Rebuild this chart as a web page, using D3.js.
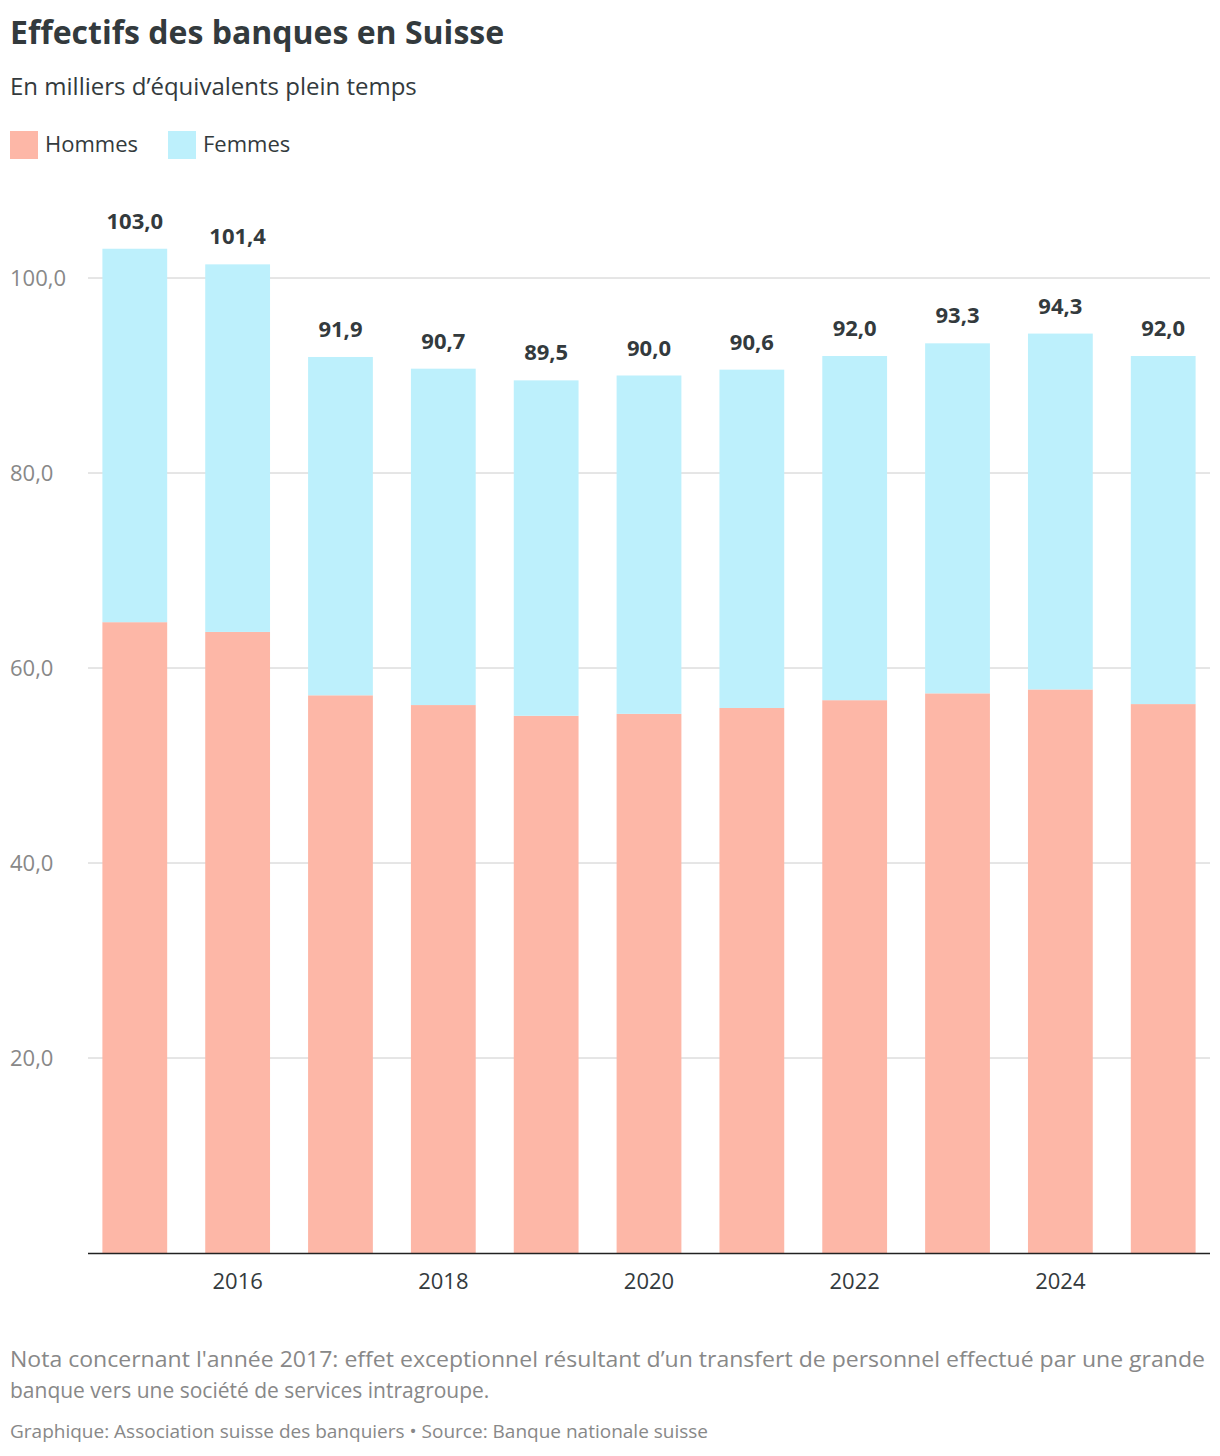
<!DOCTYPE html>
<html><head><meta charset="utf-8">
<script src="https://cdn.jsdelivr.net/npm/d3@7"></script>
<style>body{margin:0;background:#fff;font-family:"Open Sans",Lato,sans-serif;}</style>
</head><body><svg id="c" width="1220" height="1456"></svg>
<script>
const years=[2015,2016,2017,2018,2019,2020,2021,2022,2023,2024,2025];
const totals=[103.0,101.4,91.9,90.7,89.5,90.0,90.6,92.0,93.3,94.3,92.0];
const hommes=[64.7,63.7,57.2,56.2,55.1,55.3,55.9,56.7,57.4,57.8,56.3];
const femmes=totals.map((t,i)=>+(t-hommes[i]).toFixed(1));
const yTicks=[20,40,60,80,100];
const xTickYears=[2016,2018,2020,2022,2024];
const cH="#fdb7a7",cF="#bdf0fc",txt="#333a3d";
const svg=d3.select("#c");
const x=d3.scaleBand().domain(years).range([88,1210]).paddingInner(0.37).paddingOuter(0.14);
const y=d3.scaleLinear().domain([0,100]).range([1253,278]);
const fmt=v=>v.toFixed(1).replace(".",",");
svg.append("text").attr("x",10).attr("y",44).attr("font-size",32).attr("font-weight",700).attr("fill",txt).text("Effectifs des banques en Suisse");
svg.append("text").attr("x",10).attr("y",95).attr("font-size",24).attr("fill",txt).text("En milliers d’équivalents plein temps");
[["Hommes",cH,10],["Femmes",cF,168]].forEach(([l,c,px])=>{
 svg.append("rect").attr("x",px).attr("y",131).attr("width",28).attr("height",28).attr("fill",c);
 svg.append("text").attr("x",px+35).attr("y",152).attr("font-size",22).attr("fill",txt).text(l);
});
yTicks.forEach(t=>{
 svg.append("line").attr("x1",88).attr("x2",1210).attr("y1",y(t)).attr("y2",y(t)).attr("stroke","#cccccc");
 svg.append("text").attr("x",10).attr("y",y(t)+8).attr("font-size",22).attr("fill","#888").text(fmt(t));
});
years.forEach((yr,i)=>{
 svg.append("rect").attr("x",x(yr)).attr("width",x.bandwidth()).attr("y",y(hommes[i])).attr("height",y(0)-y(hommes[i])).attr("fill",cH);
 svg.append("rect").attr("x",x(yr)).attr("width",x.bandwidth()).attr("y",y(totals[i])).attr("height",y(hommes[i])-y(totals[i])).attr("fill",cF);
 svg.append("text").attr("x",x(yr)+x.bandwidth()/2).attr("y",y(totals[i])-20).attr("text-anchor","middle").attr("font-size",22).attr("font-weight",700).attr("fill",txt).text(fmt(totals[i]));
});
svg.append("line").attr("x1",88).attr("x2",1210).attr("y1",1253.5).attr("y2",1253.5).attr("stroke","#222").attr("stroke-width",1.5);
xTickYears.forEach(yr=>{
 svg.append("text").attr("x",x(yr)+x.bandwidth()/2).attr("y",1289).attr("text-anchor","middle").attr("font-size",22).attr("fill",txt).text(yr);
});
svg.append("text").attr("x",10).attr("y",1367).attr("font-size",21).attr("fill","#888").attr("textLength",1195).attr("lengthAdjust","spacingAndGlyphs").text("Nota concernant l'année 2017: effet exceptionnel résultant d’un transfert de personnel effectué par une grande");
svg.append("text").attr("x",10).attr("y",1398).attr("font-size",21).attr("fill","#888").text("banque vers une société de services intragroupe.");
svg.append("text").attr("x",10).attr("y",1438).attr("font-size",19).attr("fill","#888").text("Graphique: Association suisse des banquiers • Source: Banque nationale suisse");
</script></body></html>
